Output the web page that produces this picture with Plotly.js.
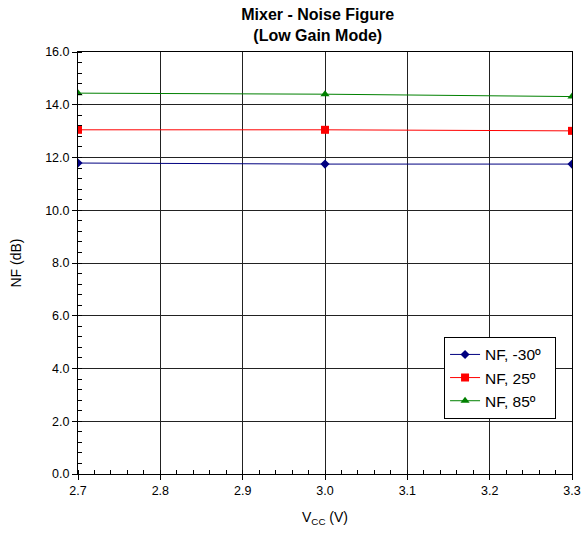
<!DOCTYPE html>
<html><head><meta charset="utf-8">
<script src="https://cdn.plot.ly/plotly-3.0.1.min.js"></script>
<style>html,body{margin:0;padding:0;background:#fff}</style>
</head><body>
<div id="chart" style="width:583px;height:535px"></div>
<script>
const vcc = [2.7, 3.0, 3.3];
const nfM30 = [11.79, 11.75, 11.75];
const nf25 = [13.05, 13.05, 13.01];
const nf85 = [14.44, 14.40, 14.31];
const names = ['NF, -30º', 'NF, 25º', 'NF, 85º'];
const pad = '\u00a0\u00a0';

const traces = [
  {x: vcc, y: nfM30, name: names[0] + pad, mode: 'lines+markers', line: {color: '#000080', width: 1}, marker: {symbol: 'diamond', size: 7, color: '#000080'}},
  {x: vcc, y: nf25, name: names[1] + pad, mode: 'lines+markers', line: {color: '#ff0000', width: 1}, marker: {symbol: 'square', size: 8, color: '#ff0000'}},
  {x: vcc, y: nf85, name: names[2] + pad, mode: 'lines+markers', line: {color: '#008000', width: 1}, marker: {symbol: 'triangle-up', size: 8, color: '#008000'}}
];

const layout = {
  width: 583, height: 535,
  margin: {l: 78, r: 11, t: 52, b: 61},
  paper_bgcolor: '#fff', plot_bgcolor: '#fff',
  font: {family: 'Liberation Sans, Arial, sans-serif', size: 12.5, color: '#000'},
  title: {text: '<b>Mixer - Noise Figure<br>(Low Gain Mode)</b>', font: {size: 16}, x: 0.545, xanchor: 'center', yref: 'container', y: 0.963, yanchor: 'middle'},
  xaxis: {
    range: [2.7, 3.3], dtick: 0.1, tickformat: '.1f',
    showgrid: true, gridcolor: '#222', gridwidth: 1,
    showline: true, linecolor: '#000', linewidth: 1, mirror: true,
    ticks: 'outside', ticklen: 5, tickcolor: '#000',
    minor: {dtick: 0.02, ticks: 'inside', ticklen: 4, tickcolor: '#000', showgrid: false},
    zeroline: false,
    title: {text: 'V<sub>CC</sub> (V)', font: {size: 14}, standoff: 15}
  },
  yaxis: {
    range: [0, 16], dtick: 2, tickformat: '.1f',
    showgrid: true, gridcolor: '#222', gridwidth: 1,
    showline: true, linecolor: '#000', linewidth: 1, mirror: true,
    ticks: 'outside', ticklen: 5, tickcolor: '#000',
    minor: {dtick: 0.4, ticks: 'inside', ticklen: 4, tickcolor: '#000', showgrid: false},
    zeroline: false,
    title: {text: 'NF (dB)', font: {size: 14}, standoff: 20}
  },
  showlegend: true,
  legend: {x: 0.741, y: 0.325, xanchor: 'left', yanchor: 'top', bgcolor: '#fff', bordercolor: '#000', borderwidth: 1, font: {size: 15.5}, tracegroupgap: 3, itemwidth: 30}
};

Plotly.newPlot('chart', traces, layout, {displayModeBar: false, staticPlot: true});
</script>
</body></html>
